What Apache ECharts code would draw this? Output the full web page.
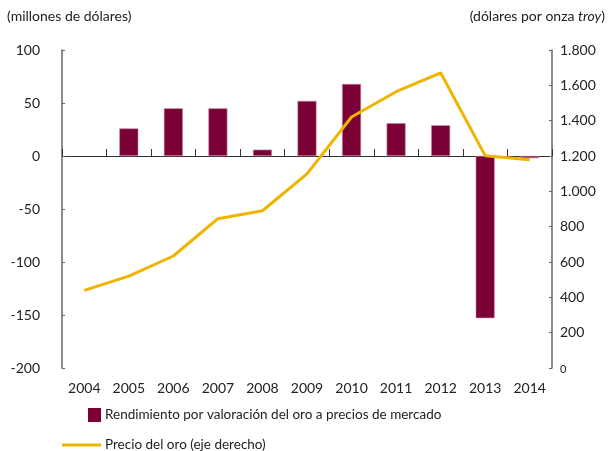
<!DOCTYPE html>
<html>
<head>
<meta charset="utf-8">
<script src="https://cdn.jsdelivr.net/npm/echarts@6/dist/echarts.min.js"></script>
<style>
    html, body { margin: 0; padding: 0; background: #fff; }
    #chart { width: 608px; height: 451px; }
</style>
</head>
<body>
<div id="chart"></div>
<script>
var years = ['2004', '2005', '2006', '2007', '2008', '2009', '2010', '2011', '2012', '2013', '2014'];
// rendimiento por valoración (millones de dólares); 2004 sin dato
var rendimiento = [null, 26, 45, 45, 6, 52, 68, 31, 29, -153, -2];
// precio del oro (dólares por onza troy)
var precio = [439, 520, 634, 845, 890, 1099, 1421, 1564, 1671, 1202, 1179];
var leftTicks = [-200, -150, -100, -50, 0, 50, 100];
var rightTicks = [0, 200, 400, 600, 800, 1000, 1200, 1400, 1600, 1800];

var FONT = 'Lato';
var TXT = '#222';
var AXIS = '#666';
var BAR = '#7a0036';
var GOLD = '#f0b400';

var chart = echarts.init(document.getElementById('chart'));

// separador de miles con punto
function miles(v) {
    return String(v).replace(/\B(?=(\d{3})+(?!\d))/g, '.');
}

var option = {
    animation: false,
    textStyle: { fontFamily: FONT },
    grid: { left: 62, right: 56, top: 50, bottom: 83 },
    graphic: [
        {
            type: 'text', left: 7, top: 9,
            style: { text: '(millones de dólares)', font: '14px ' + FONT, fill: TXT }
        },
        {
            type: 'text', right: 3, top: 9,
            style: {
                text: '(dólares por onza {i|troy})',
                font: '14px ' + FONT, fill: TXT,
                rich: { i: { fontStyle: 'italic', fontSize: 14, fontFamily: FONT, fill: TXT } }
            }
        }
    ],
    legend: [
        {
            data: [{ name: 'Rendimiento por valoración del oro a precios de mercado', icon: 'rect' }],
            left: 88, top: 408,
            itemWidth: 13, itemHeight: 14, itemGap: 4,
            itemStyle: { borderWidth: 0 },
            textStyle: { fontSize: 13.5, color: TXT, fontFamily: FONT, padding: [0, 0, 0, -1] },
            padding: 0
        },
        {
            data: [{ name: 'Precio del oro (eje derecho)', icon: 'rect' }],
            left: 62, top: 438,
            itemWidth: 39, itemHeight: 3,
            itemStyle: { color: GOLD },
            textStyle: { fontSize: 13.5, color: TXT, fontFamily: FONT, padding: [0, 0, 0, -1] },
            padding: 0
        }
    ],
    xAxis: [
        {
            type: 'category',
            data: years,
            position: 'top',
            axisLine: { onZero: true, onZeroAxisIndex: 0, lineStyle: { color: '#333', width: 1 } },
            axisTick: { show: true, inside: false, length: 7, lineStyle: { color: '#333' } },
            axisLabel: { show: false },
            splitLine: { show: false }
        },
        {
            type: 'category',
            data: years,
            position: 'bottom',
            axisLine: { show: false },
            axisTick: { show: false },
            axisLabel: { margin: 13, fontSize: 14, color: TXT, fontFamily: FONT },
            splitLine: { show: false }
        }
    ],
    yAxis: [
        {
            type: 'value',
            min: leftTicks[0], max: leftTicks[leftTicks.length - 1], interval: 50,
            axisLine: { show: true, lineStyle: { color: AXIS, width: 1.5 } },
            axisTick: { show: true, inside: true, length: 3, lineStyle: { color: AXIS } },
            axisLabel: { margin: 22, fontSize: 14, color: TXT, fontFamily: FONT },
            splitLine: { show: false }
        },
        {
            type: 'value',
            min: rightTicks[0], max: rightTicks[rightTicks.length - 1], interval: 200,
            axisLine: { show: true, lineStyle: { color: AXIS, width: 1.5 } },
            axisTick: { show: true, inside: true, length: 3, lineStyle: { color: AXIS } },
            axisLabel: {
                margin: 8, fontSize: 14, color: TXT, fontFamily: FONT,
                formatter: function(v) {
                    return v === 0 ? '{s|0}' : miles(v);
                },
                rich: { s: { fontSize: 11, color: TXT, fontFamily: FONT, padding: [3, 0, 0, 0] } }
            },
            splitLine: { show: false }
        }
    ],
    series: [
        {
            name: 'Rendimiento por valoración del oro a precios de mercado',
            type: 'bar',
            xAxisIndex: 0,
            yAxisIndex: 0,
            data: rendimiento,
            barWidth: 19,
            itemStyle: { color: BAR, borderColor: '#c98aa6', borderWidth: 0.6 }
        },
        {
            name: 'Precio del oro (eje derecho)',
            type: 'line',
            xAxisIndex: 0,
            yAxisIndex: 1,
            data: precio,
            symbol: 'none',
            lineStyle: { color: GOLD, width: 3 },
            itemStyle: { color: GOLD },
            z: 5
        }
    ]
};

chart.setOption(option);
</script>
</body>
</html>
